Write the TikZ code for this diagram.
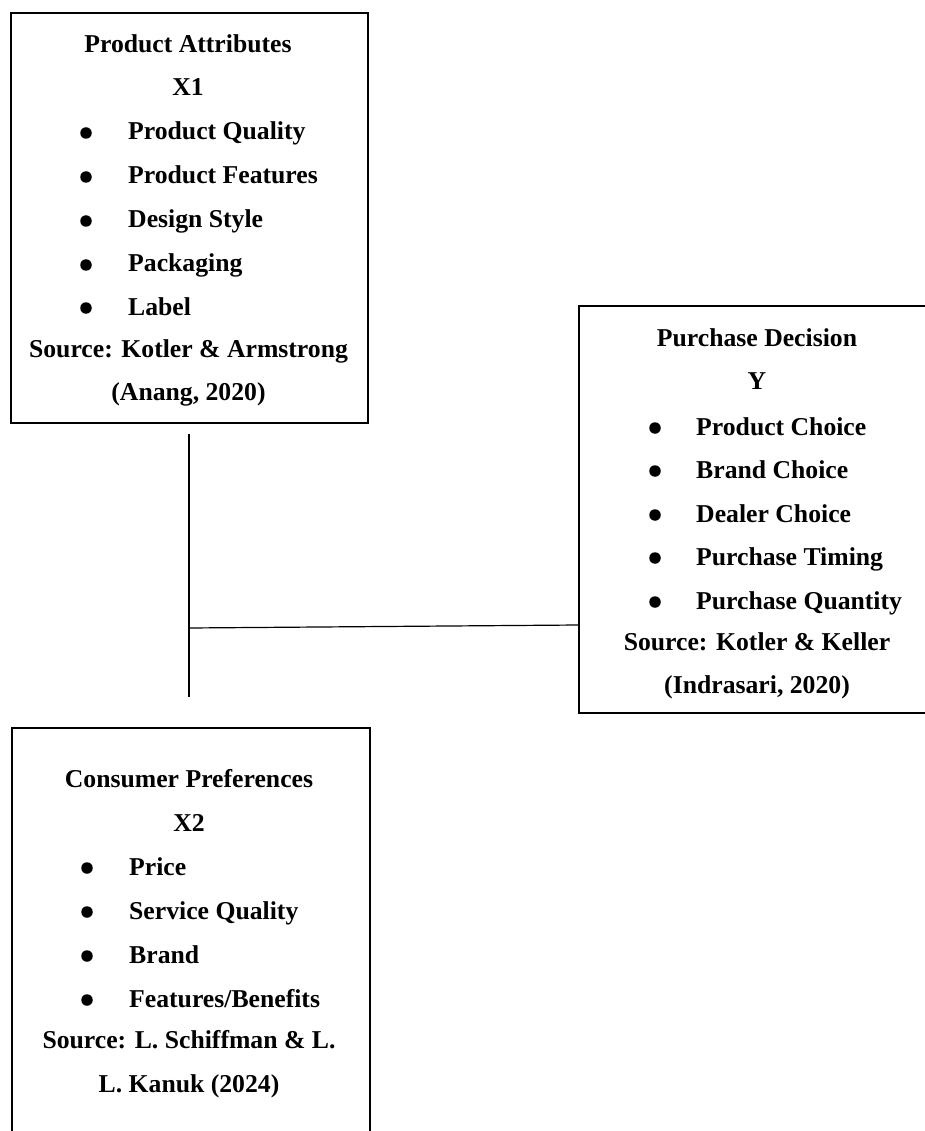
\documentclass[tikz,border=0pt]{standalone}
\usepackage{fontspec}
\setmainfont{Liberation Serif}
\begin{document}
\begin{tikzpicture}[x=1pt,y=-1pt,
  box/.style={draw=black,line width=1.8pt,inner sep=0pt,anchor=north west},
  conn/.style={draw=black,line width=1.2pt},
  txt/.style={anchor=base,inner sep=0pt,font=\fontsize{25.7}{30}\selectfont\bfseries},
  itm/.style={anchor=base west,inner sep=0pt,font=\fontsize{25.7}{30}\selectfont\bfseries},
  bul/.style={circle,fill=black,inner sep=0pt,minimum size=11.5pt}]
\useasboundingbox (0,0) rectangle (925,1131);
\clip (0,0) rectangle (925,1131);
% boxes
\node[box,minimum width=357pt,minimum height=410pt] (X1) at (10,12) {};
\node[box,minimum width=358pt,minimum height=407pt] (Y) at (578,305) {};
\node[box,minimum width=358pt,minimum height=440pt] (X2) at (11,727) {};
% X1 text
\node[txt] (x1t) at (188,53) {Product Attributes};
\node[txt] (x1v) at (188,96) {X1};
\foreach \n/\yy/\t in {a/140/{Product Quality},b/184/{Product Features},c/228/{Design Style},d/272/{Packaging},e/315/{Label}}{
  \node[bul] (x1b\n) at (86,\yy-7) {};
  \node[itm] (x1i\n) at (128,\yy) {\t};
}
\node[txt] (x1s) at (188.5,357) {Source: Kotler \& Armstrong};
\node[txt] (x1r) at (188.5,400) {(Anang, 2020)};
% Y text
\node[txt] (yt) at (757,346) {Purchase Decision};
\node[txt] (yv) at (757,389) {Y};
\foreach \n/\yy/\t in {a/435/{Product Choice},b/478/{Brand Choice},c/522/{Dealer Choice},d/565/{Purchase Timing},e/609/{Purchase Quantity}}{
  \node[bul] (yb\n) at (655,\yy-7) {};
  \node[itm] (yi\n) at (696,\yy) {\t};
}
\node[txt] (ys) at (757,650) {Source: Kotler \& Keller};
\node[txt] (yr) at (757,693) {(Indrasari, 2020)};
% X2 text
\node[txt] (x2t) at (189,787) {Consumer Preferences};
\node[txt] (x2v) at (189,831) {X2};
\foreach \n/\yy/\t in {a/875/{Price},b/919/{Service Quality},c/963/{Brand},d/1007/{Features/Benefits}}{
  \node[bul] (x2b\n) at (87,\yy-7) {};
  \node[itm] (x2i\n) at (129,\yy) {\t};
}
\node[txt] (x2s) at (189,1048) {Source: L. Schiffman \& L.};
\node[txt] (x2r) at (189,1092) {L. Kanuk (2024)};
% connectors
\coordinate (vtop) at (189,434);
\coordinate (vbot) at (189,697);
\coordinate (j) at (189,628);
\coordinate (yin) at (Y.north west |- 0,625);
\draw[conn] (vtop) -- (vbot);
\draw[conn] (j) -- (yin);
\end{tikzpicture}
\end{document}
